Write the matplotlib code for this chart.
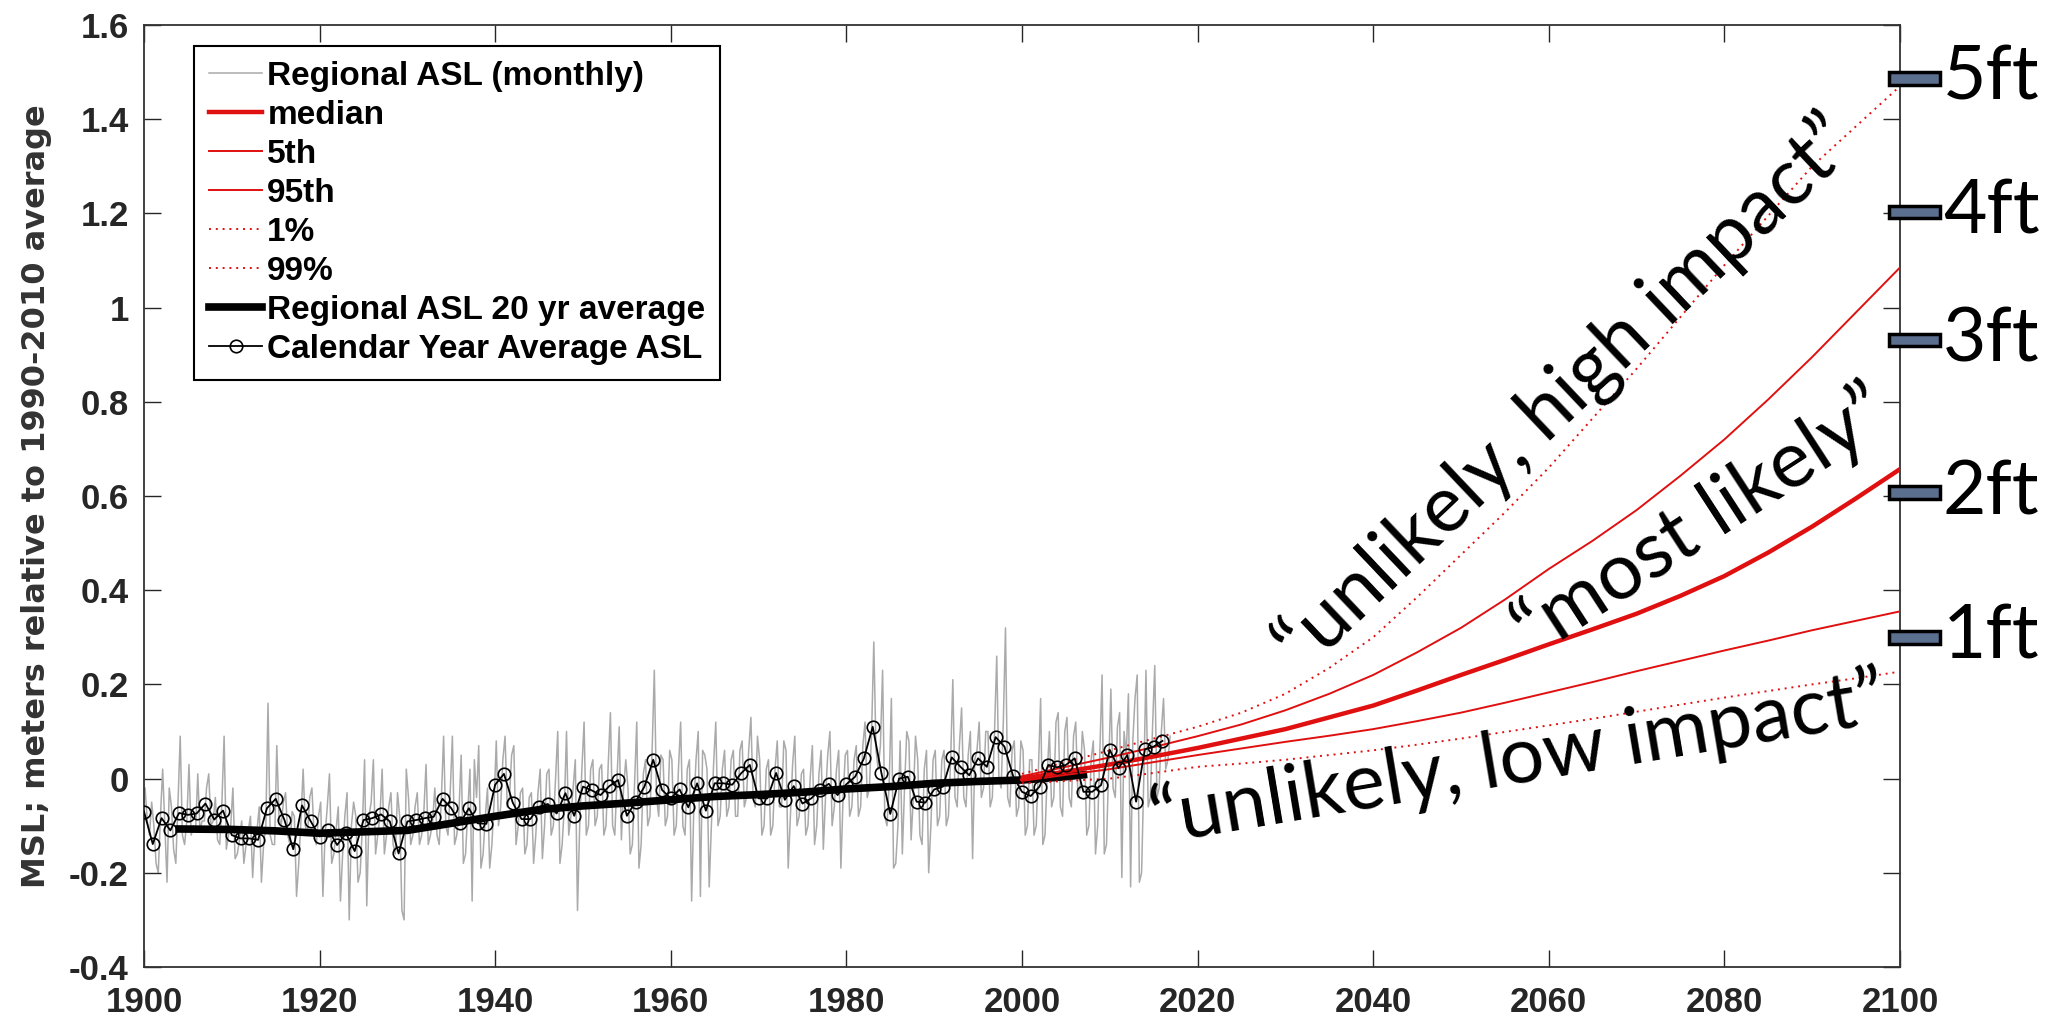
import numpy as np
import matplotlib
matplotlib.use("Agg")
from matplotlib import pyplot as plt
from matplotlib import transforms
from matplotlib.patches import Rectangle

# calendar-year mean sea level (m), 1900-2016
annual_years = list(range(1900, 2017))
annual_msl = [
    -0.070, -0.139, -0.084, -0.110, -0.073, -0.077, -0.074, -0.053, -0.087, -0.068,
    -0.120, -0.127, -0.127, -0.130, -0.063, -0.043, -0.088, -0.150, -0.057, -0.091,
    -0.123, -0.109, -0.141, -0.116, -0.154, -0.088, -0.084, -0.076, -0.091, -0.159,
    -0.091, -0.088, -0.084, -0.081, -0.043, -0.063, -0.095, -0.063, -0.095, -0.096,
    -0.013, 0.010, -0.051, -0.086, -0.086, -0.060, -0.054, -0.074, -0.031, -0.079,
    -0.017, -0.025, -0.035, -0.016, -0.003, -0.079, -0.049, -0.017, 0.040, -0.024,
    -0.042, -0.023, -0.061, -0.010, -0.068, -0.010, -0.010, -0.013, 0.011, 0.029,
    -0.042, -0.042, 0.012, -0.045, -0.016, -0.053, -0.042, -0.024, -0.011, -0.035,
    -0.012, 0.004, 0.043, 0.110, 0.011, -0.075, 0.000, 0.004, -0.049, -0.051,
    -0.023, -0.017, 0.045, 0.025, 0.007, 0.043, 0.025, 0.088, 0.068, 0.005,
    -0.028, -0.037, -0.017, 0.029, 0.024, 0.029, 0.043, -0.028, -0.028, -0.014,
    0.061, 0.022, 0.050, -0.049, 0.062, 0.068, 0.080,
]

# seasonal samples (cm), four per year, 1900-2016
monthly_cm = [
    [-2, -9, -12, -5], [-10, -18, -20, -8], [2, -10, -22, -2], [-6, -15, -18, -5], [9, -12, -14, -9],
    [3, -12, -10, -11], [1, -11, -9, -9], [-2, 1, -10, -9], [-4, -13, -14, -5], [9, -15, -12, -10],
    [-2, -17, -16, -13], [-9, -18, -14, -11], [-8, -21, -12, -11], [-6, -22, -14, -10], [16, -12, -14, -14],
    [7, -8, -10, -5], [-3, -12, -14, -7], [-8, -25, -18, -9], [2, -10, -12, -4], [-2, -12, -14, -8],
    [-5, -25, -12, -6], [1, -18, -16, -11], [-6, -26, -16, -8], [-3, -30, -10, -5], [-8, -22, -20, -10],
    [4, -27, -8, -5], [4, -16, -12, -8], [2, -16, -12, -6], [-3, -14, -16, -3], [-8, -28, -30, 2],
    [-4, -14, -12, -6], [-3, -14, -12, -7], [3, -14, -12, -9], [-2, -12, -14, -4], [9, -10, -12, -3],
    [9, -14, -12, -7], [5, -18, -16, -7], [2, -26, 4, -4], [7, -19, -16, -8], [-2, -19, -14, -5],
    [8, -10, -6, 4], [9, -6, -4, 5], [7, -14, -10, -3], [-2, -16, -14, -4], [-3, -18, -12, -3],
    [2, -17, -10, 1], [2, -12, -10, 0], [10, -18, -14, -6], [10, -12, -8, -2], [4, -28, -10, 2],
    [12, -12, -10, 2], [4, -10, -8, 2], [3, -12, -10, 3], [14, -10, -12, 0], [11, -13, -2, 4],
    [-2, -16, -14, -1], [12, -19, -14, 1], [4, -10, -8, 6], [23, -4, -8, 5], [4, -10, -8, 6],
    [4, -12, -10, 2], [12, -10, -12, 2], [4, -26, -6, 4], [10, -25, 6, 5], [2, -23, -10, 3],
    [12, -10, -8, 2], [6, -8, -6, 4], [6, -8, -8, 6], [8, -6, -4, 6], [13, -4, -6, 9],
    [4, -12, -10, 2], [4, -12, -10, 2], [8, -6, -6, 8], [6, -19, -8, 3], [9, -10, -8, 1],
    [2, -12, -10, 0], [7, -14, -10, 1], [6, -15, -4, 5], [10, -10, -6, 2], [6, -19, -4, 5],
    [6, -8, -6, 4], [7, -8, -6, 7], [12, -4, -2, 10], [29, 6, 2, 7], [23, -8, -10, -1],
    [17, -19, -18, -10], [8, -16, -2, 10], [8, -13, -4, 9], [4, -12, -14, 2], [6, -20, -10, 4],
    [6, -10, -8, 4], [6, -10, -8, 4], [21, -4, -6, 7], [15, -4, -6, 5], [10, -17, 4, 6],
    [12, -4, -2, 10], [10, -6, -4, 10], [26, 0, -2, 12], [32, -4, -6, 6], [8, -8, -6, 8],
    [6, -12, -10, 4], [4, -12, -10, 2], [17, -14, -12, 1], [10, -6, -4, 12], [14, -6, -8, 10],
    [13, -4, -6, 9], [12, -4, -2, 10], [6, -12, -10, 4], [8, -16, -10, 6], [22, -16, -14, 2],
    [19, -2, -4, 11], [14, -21, 10, 5], [18, -23, 8, 17], [22, -22, -20, 0], [23, -6, -4, 11],
    [24, -4, -2, 10], [17, 2, 4, 9],
]

# 20-year running mean (m)
avg20_years = [1904, 1910, 1915, 1920, 1925, 1930, 1935, 1940, 1945, 1950, 1955,
               1960, 1965, 1970, 1975, 1980, 1985, 1990, 1995, 2000, 2005, 2007]
avg20_msl = [-0.107, -0.108, -0.111, -0.116, -0.113, -0.110, -0.095, -0.080, -0.066, -0.058, -0.052,
             -0.045, -0.038, -0.034, -0.029, -0.022, -0.017, -0.010, -0.006, -0.003, 0.004, 0.008]

# projections (m), every 5 years
proj_years = [2000, 2005, 2010, 2015, 2020, 2025, 2030, 2035, 2040, 2045, 2050,
              2055, 2060, 2065, 2070, 2075, 2080, 2085, 2090, 2095, 2100]
proj_median = [0.000, 0.015, 0.030, 0.047, 0.065, 0.085, 0.105, 0.130, 0.155, 0.187, 0.220,
               0.252, 0.285, 0.317, 0.350, 0.388, 0.430, 0.480, 0.535, 0.595, 0.657]
proj_p05 = [-0.005, 0.008, 0.020, 0.035, 0.050, 0.064, 0.078, 0.091, 0.105, 0.122, 0.140,
            0.161, 0.183, 0.205, 0.228, 0.250, 0.272, 0.293, 0.315, 0.335, 0.355]
proj_p95 = [0.005, 0.025, 0.045, 0.067, 0.090, 0.115, 0.145, 0.180, 0.220, 0.268, 0.320,
            0.380, 0.445, 0.505, 0.570, 0.643, 0.720, 0.805, 0.895, 0.990, 1.085]
proj_p01 = [-0.010, -0.005, 0.000, 0.012, 0.025, 0.032, 0.040, 0.050, 0.060, 0.072, 0.085,
            0.099, 0.113, 0.127, 0.142, 0.157, 0.172, 0.186, 0.200, 0.213, 0.227]
proj_p99 = [0.010, 0.035, 0.060, 0.085, 0.110, 0.140, 0.180, 0.235, 0.300, 0.385, 0.475,
            0.565, 0.660, 0.765, 0.870, 0.980, 1.090, 1.195, 1.300, 1.385, 1.470]

# feet markers on the right edge
ft_labels = ["5ft", "4ft", "3ft", "2ft", "1ft"]
ft_levels = [1.487, 1.203, 0.931, 0.607, 0.300]

yticks = [-0.4, -0.2, 0, 0.2, 0.4, 0.6, 0.8, 1, 1.2, 1.4, 1.6]
ytick_labels = ["-0.4", "-0.2", "0", "0.2", "0.4", "0.6", "0.8", "1", "1.2", "1.4", "1.6"]
xticks = [1900, 1920, 1940, 1960, 1980, 2000, 2020, 2040, 2060, 2080, 2100]

RED = "#e01010"
label_font = "Liberation Sans"
note_font = "Lato"

fig = plt.figure(figsize=(20.6, 10.33), dpi=100)
ax = fig.add_axes([0.0699, 0.0639, 0.8524, 0.9119])

monthly = np.array(monthly_cm, dtype=float).ravel() / 100.0
t_monthly = annual_years[0] + 0.125 + 0.25 * np.arange(monthly.size)

ax.plot(t_monthly, monthly, color="#aaaaaa", lw=1.1, zorder=1, label="Regional ASL (monthly)")
ax.plot(proj_years, proj_median, color=RED, lw=3.2, zorder=3, label="median")
ax.plot(proj_years, proj_p05, color=RED, lw=1.4, zorder=3, label="5th")
ax.plot(proj_years, proj_p95, color=RED, lw=1.4, zorder=3, label="95th")
ax.plot(proj_years, proj_p01, color=RED, lw=1.4, ls=(0, (1, 2.5)), zorder=3, label="1%")
ax.plot(proj_years, proj_p99, color=RED, lw=1.4, ls=(0, (1, 2.5)), zorder=3, label="99%")
ax.plot(avg20_years, avg20_msl, color="black", lw=5.5, zorder=2, label="Regional ASL 20 yr average")
ax.plot(annual_years, annual_msl, color="black", lw=1.3, marker="o", ms=9, mfc="none",
        mec="black", mew=1.2, zorder=4, label="Calendar Year Average ASL")

ax.set_xlim(1900, 2100)
ax.set_ylim(-0.4, 1.6)
ax.set_xticks(xticks)
ax.set_xticklabels([str(x) for x in xticks])
ax.set_yticks(yticks)
ax.set_yticklabels(ytick_labels)
ax.tick_params(axis="both", which="both", direction="in", length=12, width=1.0,
               top=True, right=True, colors="#262626", labelsize=25)
ax.tick_params(axis="x", pad=14)
ax.tick_params(axis="y", pad=11)
for lab in ax.get_xticklabels() + ax.get_yticklabels():
    lab.set_fontfamily(label_font)
    lab.set_fontweight("bold")
for sp in ax.spines.values():
    sp.set_linewidth(1.3)
    sp.set_color("#333333")

ax.set_ylabel("MSL; meters relative to 1990-2010 average", fontsize=23,
              fontweight="bold", family="DejaVu Sans", color="#333333", labelpad=12)

leg = ax.legend(loc="upper left", bbox_to_anchor=(0.0285, 0.978), borderaxespad=0,
                frameon=True, fancybox=False, framealpha=1, edgecolor="black",
                handlelength=1.6, handletextpad=0.15, labelspacing=0.24, borderpad=0.45,
                prop={"family": label_font, "weight": "bold", "size": 24})
leg.get_frame().set_linewidth(1.5)

# scenario notes along the projection fan
ax.text(2062.0, 0.815, "\u201cunlikely, high impact\u201d", family=note_font, fontsize=57,
        rotation=43.5, rotation_mode="anchor", ha="center", va="center", zorder=5)
ax.text(2077.5, 0.545, "\u201cmost likely\u201d", family=note_font, fontsize=57,
        rotation=33, rotation_mode="anchor", ha="center", va="center", zorder=5)
ax.text(2056.5, 0.040, "\u201cunlikely, low impact\u201d", family=note_font, fontsize=57,
        rotation=9.5, rotation_mode="anchor", ha="center", va="center", zorder=5)

# feet scale outside the right spine
blend = transforms.blended_transform_factory(ax.transAxes, ax.transData)
for lab, lev in zip(ft_labels, ft_levels):
    ax.add_patch(Rectangle((0.9937, lev - 0.0135), 0.029, 0.027, transform=blend,
                           facecolor="#5b6f8e", edgecolor="black", lw=2.5,
                           clip_on=False, zorder=6))
    ax.text(1.0245, lev, lab, transform=blend, family=note_font, fontsize=54,
            ha="left", va="center", clip_on=False)

fig.savefig("out.png", dpi=100)
